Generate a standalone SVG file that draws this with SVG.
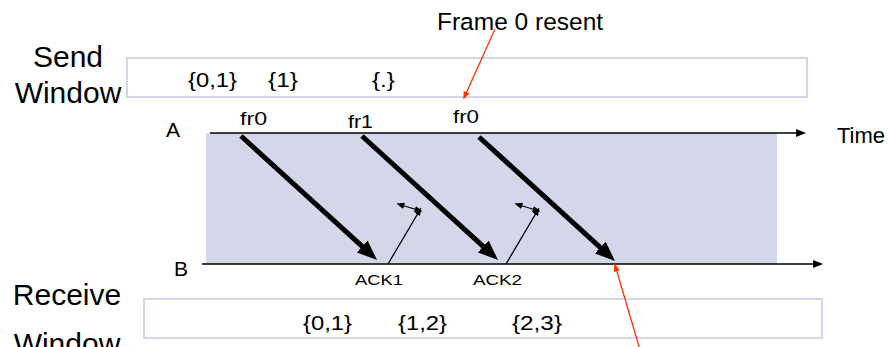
<svg xmlns="http://www.w3.org/2000/svg" width="891" height="347" viewBox="0 0 891 347">
<style>
text{font-family:"Liberation Sans",Arial,sans-serif;fill:#000}
.big{font-size:30px}
.br{font-size:20px}
.fr{font-size:18px}
.ack{font-size:15px}
.win{fill:#fff;stroke:#d4d4ec;stroke-width:2}
.thick{stroke:#000;stroke-width:5;fill:none;marker-end:url(#bigHead)}
.thin{stroke:#000;stroke-width:1.3;fill:none;marker-end:url(#smallHead)}
.dbl{stroke:#000;stroke-width:1.3;fill:none;marker-end:url(#smallHead);marker-start:url(#smallHeadS)}
.axis{stroke:#000;stroke-width:1.5;fill:none;marker-end:url(#axisHead)}
.red{stroke:#ff3300;stroke-width:1.3;fill:none;marker-end:url(#redHead)}
</style>
<defs>
<marker id="bigHead" viewBox="0 0 10 8" markerWidth="4" markerHeight="3.2" refX="2" refY="4" orient="auto" markerUnits="strokeWidth"><path d="M0,0 L10,4 L0,8 z" fill="#000"/></marker>
<marker id="smallHead" viewBox="0 0 10 8" markerWidth="8" markerHeight="6.4" refX="8" refY="4" orient="auto" markerUnits="userSpaceOnUse"><path d="M0,0 L10,4 L0,8 z" fill="#000"/></marker>
<marker id="smallHeadS" viewBox="0 0 10 8" markerWidth="8" markerHeight="6.4" refX="8" refY="4" orient="auto-start-reverse" markerUnits="userSpaceOnUse"><path d="M0,0 L10,4 L0,8 z" fill="#000"/></marker>
<marker id="axisHead" viewBox="0 0 10 8" markerWidth="10" markerHeight="8" refX="8" refY="4" orient="auto" markerUnits="userSpaceOnUse"><path d="M0,0 L10,4 L0,8 z" fill="#000"/></marker>
<marker id="redHead" viewBox="0 0 10 8" markerWidth="8" markerHeight="6.4" refX="8" refY="4" orient="auto" markerUnits="userSpaceOnUse"><path d="M0,0 L10,4 L0,8 z" fill="#ff3300"/></marker>
</defs>

<g id="send-window">
<rect class="win" x="127" y="58" width="680" height="39"/>
<text class="big" x="68" y="67" text-anchor="middle">Send</text>
<text class="big" x="68" y="103" text-anchor="middle">Window</text>
<text class="br" x="188" y="87" textLength="49" lengthAdjust="spacingAndGlyphs">{0,1}</text>
<text class="br" x="268" y="87" textLength="30" lengthAdjust="spacingAndGlyphs">{1}</text>
<text class="br" x="372" y="87" textLength="23" lengthAdjust="spacingAndGlyphs">{.}</text>
</g>

<g id="receive-window">
<rect class="win" x="144" y="299" width="678" height="39"/>
<text class="big" x="67" y="305" text-anchor="middle">Receive</text>
<text class="big" x="67" y="354" text-anchor="middle">Window</text>
<text class="br" x="303" y="330" textLength="49" lengthAdjust="spacingAndGlyphs">{0,1}</text>
<text class="br" x="398" y="330" textLength="49" lengthAdjust="spacingAndGlyphs">{1,2}</text>
<text class="br" x="512" y="330" textLength="50" lengthAdjust="spacingAndGlyphs">{2,3}</text>
</g>

<g id="timeline">
<rect x="206" y="133" width="571" height="131" fill="#d6d6ea"/>
<text x="166" y="137" font-size="21">A</text>
<text x="174" y="276" font-size="21">B</text>
<text x="837" y="143" font-size="22">Time</text>
<text class="fr" x="240" y="125" textLength="27" lengthAdjust="spacingAndGlyphs">fr0</text>
<text class="fr" x="348" y="128" textLength="25" lengthAdjust="spacingAndGlyphs">fr1</text>
<text class="fr" x="453" y="123" textLength="26" lengthAdjust="spacingAndGlyphs">fr0</text>
<text class="ack" x="355" y="285" textLength="48" lengthAdjust="spacingAndGlyphs">ACK1</text>
<text class="ack" x="473" y="285" textLength="49" lengthAdjust="spacingAndGlyphs">ACK2</text>
</g>

<g id="annotations">
<text x="437" y="30" font-size="24.5">Frame 0 resent</text>
</g>

<g id="connectors">
<line class="axis" x1="210" y1="133" x2="804" y2="133"/>
<line class="axis" x1="202" y1="264" x2="821" y2="264"/>
<line class="thick" x1="241" y1="136" x2="365.2" y2="249.2"/>
<line class="thick" x1="362" y1="136" x2="486.2" y2="249.2"/>
<line class="thick" x1="479" y1="137" x2="603.2" y2="250.2"/>
<line class="thin" x1="388" y1="264" x2="420.5" y2="209"/>
<line class="dbl" x1="398" y1="204" x2="421" y2="211"/>
<line class="thin" x1="506" y1="264" x2="538.5" y2="209"/>
<line class="dbl" x1="516" y1="204" x2="539" y2="211"/>
<line class="red" x1="495" y1="29" x2="464" y2="98"/>
<line class="red" x1="640" y1="350" x2="615" y2="265"/>
</g>
</svg>
